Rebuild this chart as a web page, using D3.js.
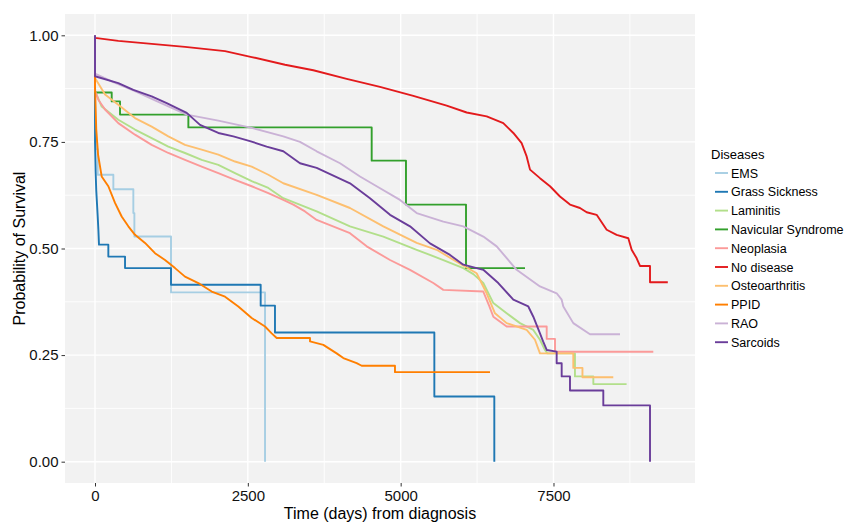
<!DOCTYPE html>
<html><head><meta charset="utf-8">
<script src="https://cdn.jsdelivr.net/npm/d3@7"></script>
<style>body{margin:0;background:#fff}svg{display:block}text{font-family:"Liberation Sans",Arial,sans-serif}</style>
</head><body><svg id="c" width="849" height="522"></svg>
<script>
const xTicks = [0, 2500, 5000, 7500];
const xMinor = [1250, 3750, 6250, 8750];
const yTicks = [0, 0.25, 0.5, 0.75, 1];
const yTickLabels = ["0.00", "0.25", "0.50", "0.75", "1.00"];
const yMinor = [0.125, 0.375, 0.625, 0.875];
const diseases = ["EMS","Grass Sickness","Laminitis","Navicular Syndrome","Neoplasia","No disease","Osteoarthritis","PPID","RAO","Sarcoids"];
const colors = ["#A6CEE3","#1F78B4","#B2DF8A","#33A02C","#FB9A99","#E31A1C","#FDBF6F","#FF7F00","#CAB2D6","#6A3D9A"];

// survival curves: [time (days), survival probability]
const ems = [[0,1],[0,0.8],[15,0.8],[15,0.733],[44,0.733],[44,0.673],[300,0.673],[300,0.639],[627,0.639],[627,0.583],[644,0.583],[644,0.528],[1243,0.528],[1243,0.397],[2781,0.397],[2781,0]];
const grassSickness = [[0,1],[0,0.75],[10,0.68],[20,0.637],[44,0.575],[55,0.544],[65,0.509],[218,0.509],[218,0.481],[491,0.481],[491,0.454],[1243,0.454],[1243,0.415],[2710,0.415],[2710,0.366],[2944,0.366],[2944,0.303],[5551,0.303],[5551,0.153],[6532,0.153],[6532,0]];
const laminitis = [[0,1],[0,0.87],[109,0.833],[381,0.802],[654,0.779],[927,0.759],[1199,0.739],[1472,0.724],[1745,0.708],[2017,0.696],[2290,0.677],[2563,0.658],[2835,0.642],[3080,0.618],[3626,0.587],[4171,0.552],[4716,0.528],[5262,0.497],[5698,0.473],[6025,0.454],[6189,0.44],[6352,0.419],[6516,0.372],[6734,0.348],[6952,0.325],[7170,0.309],[7279,0.286],[7361,0.262],[7400,0.254],[7851,0.254],[7851,0.2],[8152,0.2],[8152,0.182],[8696,0.182]];
const navicular = [[0,1],[0,0.866],[273,0.866],[273,0.845],[409,0.845],[409,0.814],[1527,0.814],[1527,0.784],[4526,0.784],[4526,0.706],[5087,0.706],[5087,0.603],[6069,0.603],[6069,0.454],[7034,0.454]];
const neoplasia = [[0,1],[0,0.87],[54,0.849],[164,0.826],[381,0.794],[654,0.767],[927,0.743],[1199,0.724],[1472,0.708],[1745,0.692],[2017,0.677],[2290,0.661],[2563,0.646],[2835,0.63],[3080,0.614],[3244,0.603],[3435,0.587],[3626,0.567],[4171,0.536],[4444,0.505],[4826,0.473],[5153,0.45],[5534,0.419],[5698,0.403],[6352,0.399],[6450,0.365],[6516,0.34],[6734,0.317],[7389,0.317],[7389,0.288],[7525,0.288],[7525,0.258],[9133,0.258]];
const noDisease = [[0,1],[0,0.994],[381,0.987],[927,0.98],[1472,0.973],[2127,0.963],[2563,0.949],[3108,0.931],[3571,0.918],[4117,0.898],[4662,0.879],[5207,0.858],[5753,0.835],[6080,0.819],[6407,0.81],[6679,0.794],[6843,0.771],[6979,0.747],[7061,0.716],[7116,0.685],[7279,0.665],[7443,0.646],[7606,0.622],[7770,0.603],[7933,0.595],[8043,0.585],[8206,0.579],[8370,0.544],[8533,0.532],[8724,0.524],[8779,0.497],[8861,0.477],[8915,0.459],[9079,0.459],[9079,0.421],[9370,0.421]];
const osteoarthritis = [[0,1],[0,0.9],[164,0.861],[381,0.837],[654,0.806],[927,0.786],[1199,0.763],[1472,0.743],[1745,0.732],[2017,0.72],[2290,0.704],[2563,0.692],[2835,0.673],[3080,0.653],[3626,0.626],[4171,0.595],[4716,0.552],[5262,0.513],[5589,0.497],[5916,0.469],[6243,0.442],[6407,0.395],[6543,0.348],[6734,0.325],[7061,0.309],[7197,0.286],[7279,0.254],[7824,0.254],[7824,0.22],[7974,0.22],[7974,0.198],[8478,0.198]];
const ppid = [[0,1],[0,0.88],[20,0.78],[50,0.72],[109,0.669],[218,0.646],[327,0.607],[436,0.575],[545,0.552],[654,0.532],[818,0.513],[981,0.489],[1145,0.473],[1309,0.454],[1472,0.434],[1690,0.419],[1909,0.399],[2127,0.387],[2344,0.364],[2563,0.337],[2781,0.317],[2890,0.301],[2972,0.29],[3517,0.29],[3517,0.282],[3735,0.274],[3953,0.254],[4062,0.243],[4280,0.231],[4362,0.225],[4907,0.225],[4907,0.21],[6461,0.21]];
const rao = [[0,1],[0,0.91],[300,0.89],[654,0.869],[1000,0.846],[1500,0.814],[2017,0.8],[2563,0.783],[3080,0.763],[3353,0.75],[3626,0.728],[4008,0.7],[4335,0.669],[4607,0.646],[4989,0.614],[5262,0.583],[5698,0.563],[6025,0.552],[6352,0.528],[6571,0.505],[6897,0.45],[7279,0.411],[7552,0.395],[7634,0.38],[7661,0.364],[7824,0.325],[8097,0.299],[8588,0.299]];
const sarcoids = [[0,1],[0,0.904],[381,0.888],[627,0.872],[927,0.857],[1172,0.841],[1500,0.818],[1718,0.79],[2017,0.771],[2263,0.763],[2535,0.752],[2808,0.739],[3080,0.728],[3353,0.7],[3626,0.689],[4171,0.653],[4498,0.618],[4826,0.579],[5153,0.552],[5480,0.512],[5807,0.485],[6025,0.462],[6352,0.45],[6597,0.419],[6843,0.38],[7088,0.364],[7170,0.34],[7279,0.301],[7330,0.282],[7389,0.262],[7552,0.258],[7552,0.231],[7634,0.231],[7634,0.2],[7770,0.2],[7770,0.167],[8315,0.167],[8315,0.132],[9079,0.132],[9079,0]];

const seriesList = [ems, grassSickness, laminitis, navicular, neoplasia, noDisease, osteoarthritis, ppid, rao, sarcoids];

const svg = d3.select("#c");
const P = {l:65, r:695, t:14, b:483};
const x = d3.scaleLinear().domain([-491, 9815]).range([P.l, P.r]);
const y = d3.scaleLinear().domain([-0.05, 1.05]).range([P.b, P.t]);
const color = d3.scaleOrdinal().domain(diseases).range(colors);

svg.append("rect").attr("x",P.l).attr("y",P.t).attr("width",P.r-P.l).attr("height",P.b-P.t).attr("fill","#F2F2F2");
const g = svg.append("g");
g.selectAll(".vmin").data(xMinor).join("line").attr("x1",d=>x(d)).attr("x2",d=>x(d)).attr("y1",P.t).attr("y2",P.b).attr("stroke","#fff").attr("stroke-width",0.9);
g.selectAll(".hmin").data(yMinor).join("line").attr("y1",d=>y(d)).attr("y2",d=>y(d)).attr("x1",P.l).attr("x2",P.r).attr("stroke","#fff").attr("stroke-width",0.9);
g.selectAll(".vmaj").data(xTicks).join("line").attr("x1",d=>x(d)).attr("x2",d=>x(d)).attr("y1",P.t).attr("y2",P.b).attr("stroke","#fff").attr("stroke-width",1.4);
g.selectAll(".hmaj").data(yTicks).join("line").attr("y1",d=>y(d)).attr("y2",d=>y(d)).attr("x1",P.l).attr("x2",P.r).attr("stroke","#fff").attr("stroke-width",1.4);

const line = d3.line().x(d=>x(d[0])).y(d=>y(d[1])).curve(d3.curveLinear);
seriesList.forEach((s,i)=>{
  svg.append("path").attr("d",line(s)).attr("fill","none").attr("stroke",color(diseases[i])).attr("stroke-width",1.9).attr("stroke-linejoin","round");
});

const xAxis = d3.axisBottom(x).tickValues(xTicks).tickSize(3.5).tickPadding(4).tickFormat(d3.format("d"));
const xa = svg.append("g").attr("transform",`translate(0,${P.b})`).call(xAxis);
xa.select(".domain").remove();
xa.selectAll("line").attr("stroke","#333");
xa.selectAll("text").attr("font-size",15).attr("fill","#111").attr("font-family","'Liberation Sans',Arial,sans-serif");
const yAxis = d3.axisLeft(y).tickValues(yTicks).tickSize(3.5).tickPadding(3).tickFormat((d,i)=>yTickLabels[i]);
const ya = svg.append("g").attr("transform",`translate(${P.l},0)`).call(yAxis);
ya.select(".domain").remove();
ya.selectAll("line").attr("stroke","#333");
ya.selectAll("text").attr("font-size",15).attr("fill","#111").attr("font-family","'Liberation Sans',Arial,sans-serif");

svg.append("text").attr("x",(P.l+P.r)/2).attr("y",519).attr("text-anchor","middle").attr("font-size",16).attr("fill","#000").text("Time (days) from diagnosis");
svg.append("text").attr("transform",`translate(25,${(P.t+P.b)/2}) rotate(-90)`).attr("text-anchor","middle").attr("font-size",16).attr("fill","#000").text("Probability of Survival");

const lg = svg.append("g");
lg.append("text").attr("x",711).attr("y",159).attr("font-size",13).attr("fill","#000").text("Diseases");
diseases.forEach((d,i)=>{
  const cy = 173 + i*18.8;
  lg.append("line").attr("x1",715).attr("x2",728).attr("y1",cy).attr("y2",cy).attr("stroke",color(d)).attr("stroke-width",1.9);
  lg.append("text").attr("x",731).attr("y",cy+4.5).attr("font-size",12.5).attr("fill","#000").text(d);
});
</script></body></html>
